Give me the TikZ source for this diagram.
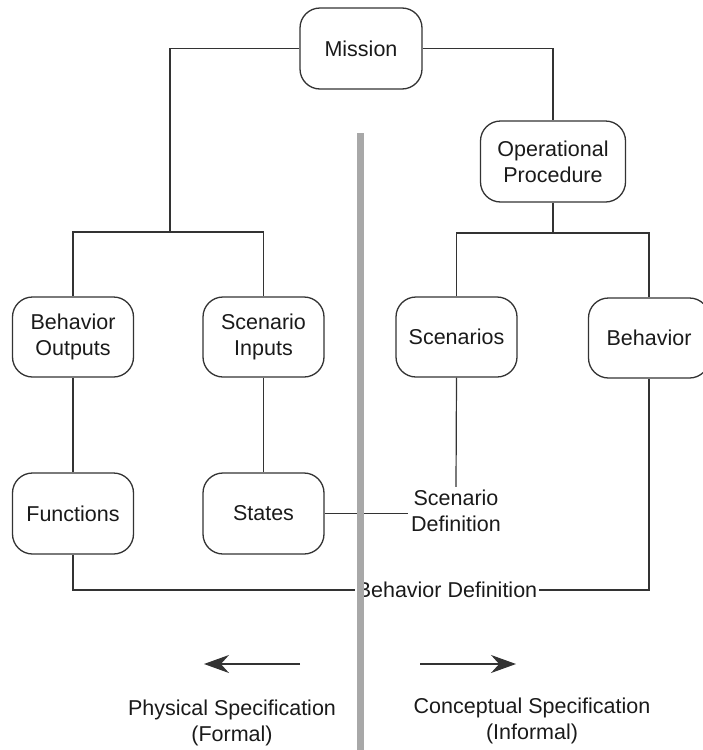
\documentclass[tikz,border=0pt]{standalone}
\usepackage{fontspec}
\setmainfont{Liberation Sans}
\usetikzlibrary{arrows.meta}
\definecolor{linec}{HTML}{333333}
\definecolor{textc}{HTML}{1A1A1A}
\definecolor{barc}{HTML}{A8A8A8}
\newcommand{\diagfont}{\fontsize{21.5}{26}\selectfont}
\tikzset{
  box/.style={draw=linec, line width=1.3pt, rounded corners=20pt,
    minimum width=121pt, minimum height=80pt, align=center,
    font=\diagfont, text=textc, inner sep=2pt},
  lbl/.style={align=center, font=\diagfont, text=textc, inner sep=3pt},
  conn/.style={draw=linec, line width=1.2pt},
  bigarrow/.style={conn, -{Stealth[length=25pt,width=18pt]}}
}
\begin{document}
\begin{tikzpicture}[x=1pt,y=-1pt]
\useasboundingbox (0,0) rectangle (702,750);

% boxes
\node[box, minimum width=122pt, minimum height=81pt] (mission) at (361,48.5) {Mission};
\node[box, minimum width=145pt, minimum height=81pt] (opproc) at (553,161.5) {Operational\\Procedure};
\node[box] (bout)   at (73,337)    {Behavior\\Outputs};
\node[box] (sinp)   at (263.5,337) {Scenario\\Inputs};
\node[box] (scen)   at (456.5,337) {Scenarios};
\node[box] (behav)  at (649,338)   {Behavior};
\node[box, minimum height=81pt] (func)   at (73,513.5)  {Functions};
\node[box, minimum height=81pt] (states) at (263.5,513.5) {States};

% free labels
\node[lbl] (sdef) at (456,511) {Scenario\\Definition};
\node[lbl, inner sep=2pt] (bdef) at (447,590) {Behavior Definition};

% junction points of the trees
\coordinate (lj) at (170,232);
\coordinate (rj) at (553,233);

% tree connectors
\draw[conn] (mission.west) -| (lj);
\draw[conn] (bout.north) -- (bout.north |- lj) -- (sinp.north |- lj) -- (sinp.north);
\draw[conn] (mission.east) -| (opproc.north);
\draw[conn] (opproc.south) -- (rj);
\draw[conn] (scen.north) |- (rj) -| (behav.north);
\draw[conn] (bout.south) -- (func.north);
\draw[conn] (sinp.south) -- (states.north);

% definition connectors
\draw[conn] (scen.south) -- (sdef.north);
\draw[conn] (states.east) -- (states.east -| sdef.west);
\draw[conn] (func.south) |- (bdef.west);
\draw[conn] (bdef.east) -| (behav.south);

% dividing bar
\fill[barc] (357,133) rectangle (363.5,750);

% direction arrows
\coordinate (la0) at (300,664);
\coordinate (la1) at (204,664);
\coordinate (ra0) at (420,664);
\coordinate (ra1) at (516,664);
\draw[bigarrow] (la0) -- (la1);
\draw[bigarrow] (ra0) -- (ra1);

% side captions
\node[lbl] (phys) at (232,723) {Physical Specification\\(Formal)};
\node[lbl] (conc) at (532,721) {Conceptual Specification\\(Informal)};
\end{tikzpicture}
\end{document}
